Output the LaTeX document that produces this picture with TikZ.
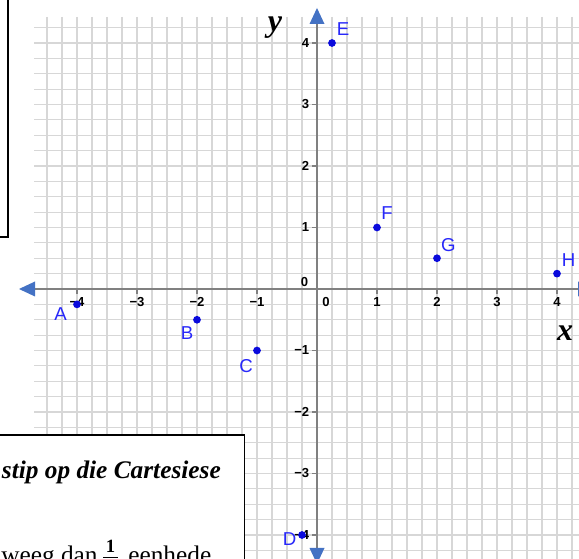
\documentclass[tikz,border=0pt]{standalone}
\usepackage{fontspec}
\setmainfont{Liberation Serif}
\setsansfont{Liberation Sans}
\definecolor{gridc}{RGB}{215,215,215}
\definecolor{axisc}{RGB}{128,128,128}
\definecolor{arrowc}{RGB}{68,114,196}
\definecolor{ptc}{RGB}{10,10,220}
\definecolor{ptl}{RGB}{40,40,250}
\begin{document}
\begin{tikzpicture}[x=0.75pt,y=-0.75pt,
  gridline/.style={draw=gridc, line width=0.8pt},
  axisline/.style={draw=axisc, line width=1pt},
  tickmark/.style={draw=axisc, line width=0.8pt},
  ticklab/.style={font=\sffamily\bfseries\fontsize{9.8}{9.8}\selectfont, inner sep=0pt, text=black},
  axarrow/.style={fill=arrowc, draw=none},
  dot/.style={circle, fill=ptc, inner sep=0pt, minimum size=5.8pt},
  plabel/.style={font=\sffamily\fontsize{14}{14}\selectfont, text=ptl, inner sep=0pt},
  axlab/.style={font=\bfseries\itshape\fontsize{24}{24}\selectfont, inner sep=0pt},
  frame/.style={draw=black, fill=white},
  boxtext/.style={font=\fontsize{19}{19}\selectfont, inner sep=0pt},
]
\fill[white] (0,0) rectangle (579,559);
\useasboundingbox (0,0) rectangle (579,559);
\clip (0,0) rectangle (579,559);
% grid
\begin{scope}
\clip (34,17) rectangle (579,559);
\foreach \i in {-18,...,17} \draw[gridline] ({317+15*\i},17) -- ({317+15*\i},559);
\foreach \j in {-17,...,17} \draw[gridline] (34,{289-15.375*\j}) -- (579,{289-15.375*\j});
\end{scope}
% axes
\coordinate (ytop) at (317,24);
\coordinate (ybot) at (317,548);
\coordinate (xleft) at (35,289);
\coordinate (xright) at (579,289);
\draw[axisline] (ybot) -- (ytop);
\draw[axisline] (xleft) -- (xright);
% ticks
\foreach \k in {-4,-3,-2,-1,1,2,3,4} {
  \draw[tickmark] ({317+60*\k},289) -- ({317+60*\k},294);
  \draw[tickmark] (312,{289-61.5*\k}) -- (317,{289-61.5*\k});
}
% tick labels
\foreach \k/\t in {-4/−4,-3/−3,-2/−2,-1/−1,1/1,2/2,3/3,4/4} {
  \node[ticklab] (xl\k) at ({317+60*\k},302) {\t};
  \node[ticklab, anchor=east] (yl\k) at (309.5,{289-61.5*\k}) {\t};
}
\node[ticklab] (xl0) at (326,302) {0};
\node[ticklab, anchor=east] (yl0) at (308.5,282) {0};
% arrows
\fill[axarrow] (317,8) -- (309.5,24) -- (324.5,24) -- cycle;
\fill[axarrow] (19,289) -- (35,281.5) -- (35,296.5) -- cycle;
\fill[axarrow] (317,564) -- (309.5,548) -- (324.5,548) -- cycle;
\fill[axarrow] (594,289) -- (578,281.5) -- (578,296.5) -- cycle;
% axis labels
\node[axlab] (ylab) at (275,28) {y};
\node[axlab] (xlab) at (565,333) {x};
% points
\begin{scope}[shift={(317,289)}, x=45pt, y=46.125pt]
\node[dot] (A) at (-4,-0.25) {};
\node[dot] (B) at (-2,-0.5) {};
\node[dot] (C) at (-1,-1) {};
\node[dot] (D) at (-0.25,-4) {};
\node[dot] (E) at (0.25,4) {};
\node[dot] (F) at (1,1) {};
\node[dot] (G) at (2,0.5) {};
\node[dot] (H) at (4,0.25) {};
\end{scope}
\node[plabel] (Alab) at (60.5,313.7) {A};
\node[plabel] (Blab) at (187,332.7) {B};
\node[plabel] (Clab) at (246,366) {C};
\node[plabel] (Dlab) at (289.7,539) {D};
\node[plabel] (Elab) at (343,29) {E};
\node[plabel] (Flab) at (387,213.5) {F};
\node[plabel] (Glab) at (448.3,245.3) {G};
\node[plabel] (Hlab) at (568.5,260.3) {H};
% boxes
\draw[frame, line width=1.5pt] (-20,-20) rectangle (8,237.5);
\draw[frame, line width=1pt] (-20,435) rectangle (244.3,590);
\node[boxtext, font=\bfseries\itshape\fontsize{19}{19}\selectfont, anchor=base east] (t1) at (221,479) {stip op die Cartesiese};
\node[boxtext, anchor=base west] (t2) at (1,564) {weeg dan};
\node[boxtext, anchor=base west] (t3) at (128,564) {eenhede};
\node[inner sep=0pt, font=\bfseries\fontsize{14}{14}\selectfont] (num) at (110.5,546) {1};
\coordinate (barl) at (103,557.5);
\coordinate (barr) at (118,557.5);
\draw[line width=1pt] (barl) -- (barr);
\end{tikzpicture}
\end{document}
